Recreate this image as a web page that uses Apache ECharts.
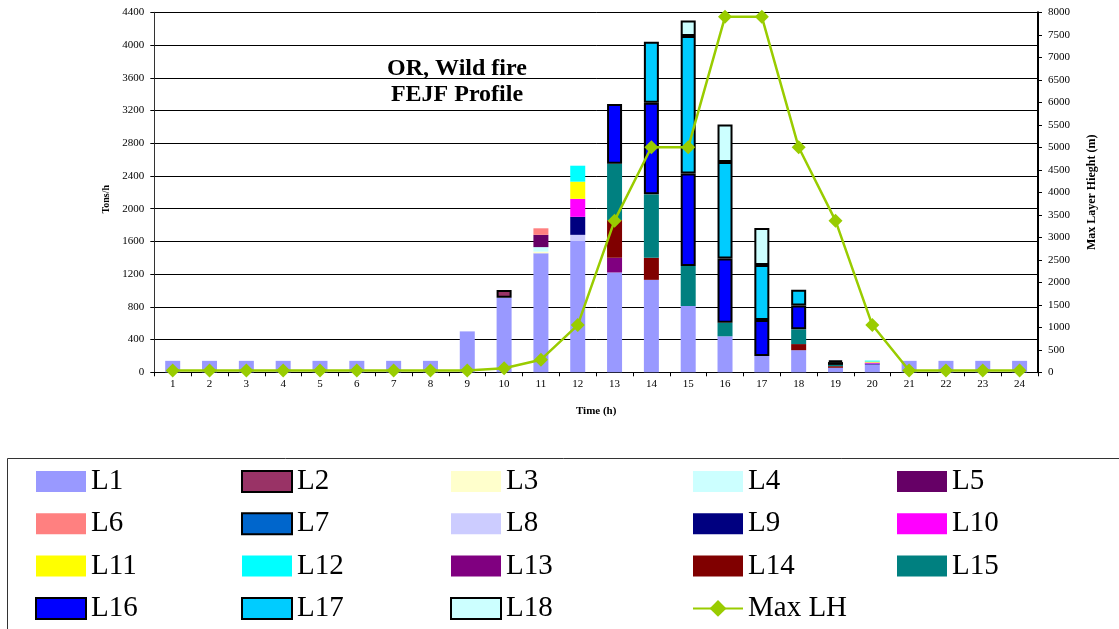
<!DOCTYPE html>
<html>
<head>
<meta charset="utf-8">
<title>OR, Wild fire - FEJF Profile</title>
<script src="https://cdn.jsdelivr.net/npm/echarts@6/dist/echarts.min.js"></script>
<style>
  html, body { margin: 0; padding: 0; background: #fff; }
  #chart { width: 1119px; height: 629px; }
</style>
</head>
<body>
<div id="chart"></div>
<script>
// Hourly emissions (tons/h) per layer and maximum layer height (m)
const hours = ['1','2','3','4','5','6','7','8','9','10','11','12','13','14','15','16','17','18','19','20','21','22','23','24'];

const L1  = [140,140,140,140,140,140,140,140,500,910,1455,1610,1220,1130,810,440,200,270,55,95,140,140,140,140];
const L2  = [0,0,0,0,0,0,0,0,0,95,0,0,0,0,0,0,0,0,0,0,0,0,0,0];
const L3  = [0,0,0,0,0,0,0,0,0,0,20,0,0,0,0,0,0,0,0,0,0,0,0,0];
const L4  = [0,0,0,0,0,0,0,0,0,0,55,0,0,0,0,0,0,0,0,0,0,0,0,0];
const L5  = [0,0,0,0,0,0,0,0,0,0,150,0,0,0,0,0,0,0,0,0,0,0,0,0];
const L6  = [0,0,0,0,0,0,0,0,0,0,80,0,0,0,0,0,0,0,0,0,0,0,0,0];
const L7  = [0,0,0,0,0,0,0,0,0,0,0,0,0,0,0,0,0,0,0,0,0,0,0,0];
const L8  = [0,0,0,0,0,0,0,0,0,0,0,70,0,0,0,0,0,0,0,0,0,0,0,0];
const L9  = [0,0,0,0,0,0,0,0,0,0,0,220,0,0,0,0,0,0,0,12,0,0,0,0];
const L10 = [0,0,0,0,0,0,0,0,0,0,0,220,0,0,0,0,0,0,0,12,0,0,0,0];
const L11 = [0,0,0,0,0,0,0,0,0,0,0,210,0,0,0,0,0,0,0,12,0,0,0,0];
const L12 = [0,0,0,0,0,0,0,0,0,0,0,195,0,0,0,0,0,0,0,12,0,0,0,0];
const L13 = [0,0,0,0,0,0,0,0,0,0,0,0,180,0,0,0,0,0,0,0,0,0,0,0];
const L14 = [0,0,0,0,0,0,0,0,0,0,0,0,460,270,0,0,0,75,20,0,0,0,0,0];
const L15 = [0,0,0,0,0,0,0,0,0,0,0,0,690,775,490,165,0,180,15,0,0,0,0,0];
const L16 = [0,0,0,0,0,0,0,0,0,0,0,0,730,1120,1130,785,440,290,35,0,0,0,0,0];
const L17 = [0,0,0,0,0,0,0,0,0,0,0,0,0,745,1680,1180,670,195,20,0,0,0,0,0];
const L18 = [0,0,0,0,0,0,0,0,0,0,0,0,0,0,190,460,455,0,0,0,0,0,0,0];
const maxLH = [40,40,40,40,40,40,40,40,40,90,280,1050,3370,5000,5000,7900,7900,5000,3370,1050,40,40,40,40];

const layerNames = ['L1','L2','L3','L4','L5','L6','L7','L8','L9','L10','L11','L12','L13','L14','L15','L16','L17','L18'];
const layerValues = [L1,L2,L3,L4,L5,L6,L7,L8,L9,L10,L11,L12,L13,L14,L15,L16,L17,L18];
const layerColors = ['#9999FF','#993366','#FFFFCC','#CCFFFF','#660066','#FF8080','#0066CC','#CCCCFF',
                     '#000080','#FF00FF','#FFFF00','#00FFFF','#800080','#800000','#008080','#0000FF','#00CCFF','#CCFFFF'];
const outlinedLayers = ['L2','L7','L16','L17','L18'];

const serif = '"Liberation Serif", "Times New Roman", serif';

const barSeries = layerNames.map(function (name, i) {
  const outlined = outlinedLayers.indexOf(name) >= 0;
  return {
    name: name,
    type: 'bar',
    stack: 'layers',
    barWidth: 15,
    // empty layers are left out so outlined layers don't leave a stray border
    data: layerValues[i].map(function (v) { return v > 0 ? v : '-'; }),
    itemStyle: {
      color: layerColors[i],
      borderColor: outlined ? '#000' : 'transparent',
      borderWidth: outlined ? 2 : 0
    },
    emphasis: { disabled: true }
  };
});

const lineSeries = {
  name: 'Max LH',
  type: 'line',
  yAxisIndex: 1,
  data: maxLH,
  symbol: 'diamond',
  symbolSize: 14,
  z: 10,
  lineStyle: { color: '#99CC00', width: 2.5 },
  itemStyle: { color: '#99CC00' },
  emphasis: { disabled: true }
};

// legend laid out in five columns
const legendColumns = [
  { left: 35,  names: ['L1','L6','L11','L16'] },
  { left: 241, names: ['L2','L7','L12','L17'] },
  { left: 450, names: ['L3','L8','L13','L18'] },
  { left: 692, names: ['L4','L9','L14','Max LH'] },
  { left: 897, names: ['L5','L10','L15'] }
];

const legends = legendColumns.map(function (col) {
  return {
    orient: 'vertical',
    left: col.left,
    top: 467,
    height: 220,
    padding: 0,
    itemWidth: 50,
    itemHeight: 21,
    itemGap: 13.3,
    selectedMode: false,
    textStyle: { fontFamily: serif, fontSize: 29, color: '#000' },
    data: col.names.map(function (n) {
      return n === 'Max LH' ? { name: n } : { name: n, icon: 'rect' };
    })
  };
});

const plainNumber = function (v) { return String(v); };

const chart = echarts.init(document.getElementById('chart'), null, { renderer: 'canvas' });

chart.setOption({
  backgroundColor: '#fff',
  animation: false,
  grid: { left: 154.3, right: 81, top: 12.3, bottom: 256.7, containLabel: false },
  xAxis: {
    type: 'category',
    data: hours,
    boundaryGap: true,
    name: 'Time (h)',
    nameLocation: 'middle',
    nameGap: 33,
    nameTextStyle: { fontFamily: serif, fontSize: 11, fontWeight: 'bold', color: '#000' },
    axisLine: { lineStyle: { color: '#000', width: 1 } },
    axisTick: { show: true, length: 4, lineStyle: { color: '#000' } },
    axisLabel: { fontFamily: serif, fontSize: 11, color: '#000', margin: 6 }
  },
  yAxis: [
    {
      type: 'value',
      min: 0,
      max: 4400,
      interval: 400,
      position: 'left',
      name: 'Tons/h',
      nameLocation: 'middle',
      nameRotate: 90,
      nameGap: 34,
      nameTextStyle: { fontFamily: serif, fontSize: 10, fontWeight: 'bold', color: '#000', padding: [0, 14, 0, 0] },
      axisLine: { show: true, lineStyle: { color: '#333', width: 1 } },
      axisTick: { show: true, length: 4, lineStyle: { color: '#000' } },
      axisLabel: { fontFamily: serif, fontSize: 11, color: '#000', margin: 10, formatter: plainNumber },
      splitLine: { show: true, lineStyle: { color: '#000', width: 1 } }
    },
    {
      type: 'value',
      min: 0,
      max: 8000,
      interval: 500,
      position: 'right',
      name: 'Max Layer Hieght (m)',
      nameLocation: 'middle',
      nameRotate: 90,
      nameGap: 48,
      nameTextStyle: { fontFamily: serif, fontSize: 12, fontWeight: 'bold', color: '#000' },
      axisLine: { show: true, lineStyle: { color: '#000', width: 2 } },
      axisTick: { show: true, length: 4, lineStyle: { color: '#000' } },
      axisLabel: { fontFamily: serif, fontSize: 11, color: '#000', margin: 10, formatter: plainNumber },
      splitLine: { show: false }
    }
  ],
  legend: legends,
  graphic: [
    {
      type: 'text',
      x: 457,
      y: 82,
      style: {
        text: 'OR, Wild fire\nFEJF Profile',
        fill: '#000',
        font: 'bold 24px ' + serif,
        lineHeight: 26,
        align: 'center',
        verticalAlign: 'middle'
      }
    },
    {
      type: 'rect',
      x: 0,
      y: 0,
      shape: { x: 7.5, y: 458.5, width: 1200, height: 300 },
      style: { fill: 'none', stroke: '#333', lineWidth: 1 },
      silent: true,
      z: -1
    }
  ],
  series: barSeries.concat([lineSeries])
});
</script>
</body>
</html>
